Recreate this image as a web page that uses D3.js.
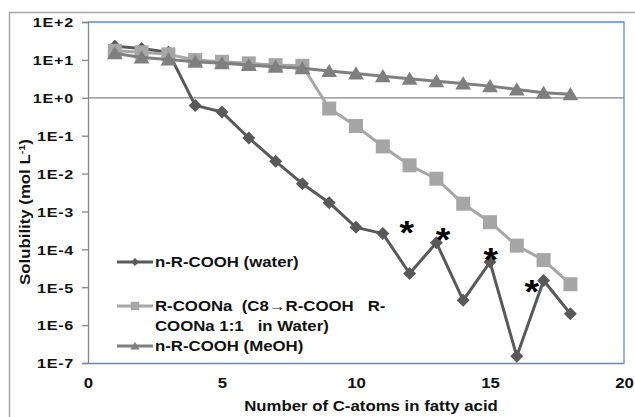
<!DOCTYPE html>
<html><head><meta charset="utf-8">
<script src="https://cdn.jsdelivr.net/npm/d3@7"></script>
<style>
html,body{margin:0;padding:0;background:#fff;}
text{font-family:"Liberation Sans",Arial,sans-serif;font-weight:bold;fill:#111;}
</style></head>
<body>
<svg id="chart" width="635" height="417"></svg>
<script>
// ---- data ----
const carbons = [1,2,3,4,5,6,7,8,9,10,11,12,13,14,15,16,17,18];
const waterValues = [23,20,16,0.63,0.42,0.087,0.021,0.0054,0.0017,3.8e-4,2.6e-4,2.3e-5,1.5e-4,4.5e-6,4.6e-5,1.5e-7,1.5e-5,2.0e-6];
const saltValues = [17.4,15.8,14,9.9,8.9,8.1,7.3,7.0,0.52,0.18,0.052,0.0165,0.0073,0.0016,5.2e-4,1.25e-4,5.2e-5,1.2e-5];
const meohValues = [14.9,11.6,10.3,8.9,8.1,7.3,6.6,6.0,5.06,4.4,3.7,3.16,2.75,2.39,2.03,1.66,1.35,1.24];
const yTickValues = [1e2,1e1,1e0,1e-1,1e-2,1e-3,1e-4,1e-5,1e-6,1e-7];
const yTickLabels = ["1E+2","1E+1","1E+0","1E-1","1E-2","1E-3","1E-4","1E-5","1E-6","1E-7"];
const xTickValues = [0,5,10,15,20];
const asteriskX = [11.89,13.25,15.03,16.56];
const asteriskY = [4.3e-4,2.8e-4,8.4e-5,1.2e-5];
const legendLabels = [["n-R-COOH (water)"],["R-COONa  (C8\u2192R-COOH   R-","COONa 1:1   in Water)"],["n-R-COOH (MeOH)"]];
const xTitle = "Number of C-atoms  in fatty acid";

// ---- layout ----
const svg = d3.select("#chart");
const L=88, R=624, T=22, B=363;
const x = d3.scaleLinear().domain([0,20]).range([L,R]);
const y = d3.scaleLog().domain([1e-7,1e2]).range([B,T]);
const SX = 1.2;
const blue = "#5b8bd0", gray="#868686";

// outer chart border
svg.append("rect").attr("x",9.5).attr("y",12.5).attr("width",700).attr("height",500)
  .attr("fill","none").attr("stroke","#a6a6a6").attr("stroke-width",1.5);

// plot border top/right (blue)
svg.append("path").attr("d",`M${L},${T}H${R}V${B}`).attr("fill","none").attr("stroke",blue).attr("stroke-width",1.3);
// gridline at 1E+0
svg.append("line").attr("x1",L).attr("x2",R).attr("y1",y(1)).attr("y2",y(1)).attr("stroke",gray).attr("stroke-width",1.3);

// y axis
const yAxis = svg.append("g").attr("transform",`translate(${L},0)`)
  .call(d3.axisLeft(y).tickValues(yTickValues).tickFormat((d,i)=>yTickLabels[i]).tickSize(6).tickPadding(0));
yAxis.select(".domain").attr("stroke",gray).attr("stroke-width",1.3);
yAxis.selectAll(".tick line").attr("stroke",gray).attr("stroke-width",1.3);
yAxis.selectAll(".tick text").attr("x",0).attr("dy","0.36em").attr("font-size",13.5)
  .attr("transform",`translate(-14,0) scale(${SX},1)`).style("letter-spacing","0.6px");

// x axis
const xAxis = svg.append("g").attr("transform",`translate(0,${B})`)
  .call(d3.axisBottom(x).tickValues(xTickValues).tickSize(0).tickPadding(0));
xAxis.select(".domain").attr("stroke",blue).attr("stroke-width",1.3);
xAxis.selectAll(".tick text").attr("y",0).attr("dy","0").attr("font-size",14)
  .attr("transform",`translate(0,25) scale(${SX},1)`);

// axis titles
svg.append("text").attr("text-anchor","middle").attr("font-size",14)
  .attr("transform",`translate(371,411) scale(${SX},1)`).text(xTitle);
const yt = svg.append("text").attr("text-anchor","middle").attr("font-size",14)
  .attr("transform",`translate(30,212) rotate(-90) scale(${SX},1)`);
yt.append("tspan").text("Solubility (mol L");
yt.append("tspan").attr("font-size",9).attr("dy",-5).text("-1");
yt.append("tspan").attr("dy",5).text(")");

// marker shapes
function marker(type, s){
  if(type==="diamond") return `M0,${-s}L${s},0L0,${s}L${-s},0Z`;
  if(type==="square") return `M${-s},${-s}H${s}V${s}H${-s}Z`;
  return `M0,${-s*0.95}L${s*1.05},${s*0.8}H${-s*1.05}Z`;
}
const series = [
  {vals:waterValues, color:"#595959", type:"diamond", size:6.5},
  {vals:saltValues, color:"#a6a6a6", type:"square", size:7},
  {vals:meohValues, color:"#7f7f7f", type:"triangle", size:7.5}
];
const line = d3.line().x(d=>x(d[0])).y(d=>y(d[1]));
series.forEach(s=>{
  const pts = carbons.map((c,i)=>[c,s.vals[i]]);
  svg.append("path").attr("d",line(pts)).attr("fill","none").attr("stroke",s.color).attr("stroke-width",3).attr("stroke-linejoin","round");
  svg.append("g").selectAll("path").data(pts).join("path")
    .attr("d",marker(s.type,s.size)).attr("transform",d=>`translate(${x(d[0])},${y(d[1])})`)
    .attr("fill",s.color);
});

// asterisks
svg.append("g").selectAll("text").data(asteriskX).join("text")
  .attr("text-anchor","middle").attr("font-size",34).style("fill","#000")
  .attr("transform",(d,i)=>`translate(${x(d)},${y(asteriskY[i])+19}) scale(1.1,1)`)
  .text("*");

// legend
const legY = [262,306,346];
series.forEach((s,i)=>{
  const g = svg.append("g").attr("transform",`translate(0,${legY[i]})`);
  g.append("line").attr("x1",117).attr("x2",153).attr("stroke",s.color).attr("stroke-width",3);
  g.append("path").attr("d",marker(s.type,s.size*0.6)).attr("transform","translate(135,0)").attr("fill",s.color);
  legendLabels[i].forEach((t,j)=>{
    g.append("text").attr("font-size",14).attr("dy","0.36em").style("white-space","pre")
      .attr("transform",`translate(155,${j*20}) scale(${SX},1)`).text(t);
  });
});
</script>
</body></html>
